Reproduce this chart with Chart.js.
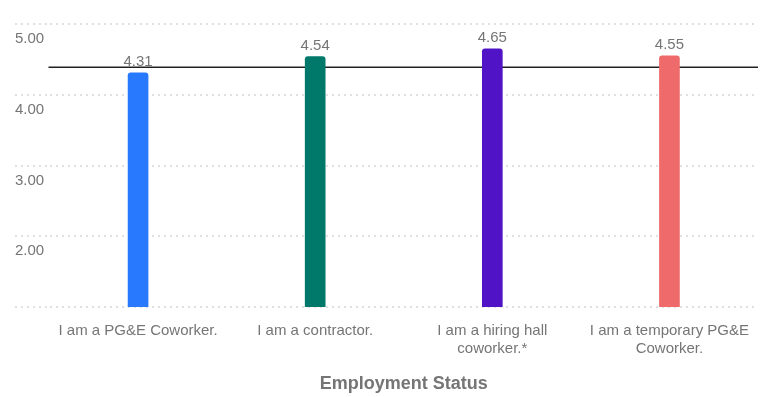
<!DOCTYPE html>
<html>
<head>
<meta charset="utf-8">
<script src="https://cdn.jsdelivr.net/npm/chart.js@4/dist/chart.umd.min.js"></script>
<style>
  html, body { margin: 0; padding: 0; background: #fff; }
  #wrap { width: 768px; height: 397px; }
</style>
</head>
<body>
<div id="wrap"><canvas id="grafico_status"></canvas></div>
<script>
const ctx = document.getElementById('grafico_status');

Chart.defaults.font.family = '"Liberation Sans", Arial, sans-serif';
Chart.defaults.color = '#757575';

const categories = [
  'I am a PG&E Coworker.',
  'I am a contractor.',
  ['I am a hiring hall', 'coworker.*'],
  ['I am a temporary PG&E', 'Coworker.']
];
const scores = [4.31, 4.54, 4.65, 4.55];
const overallAverage = 4.39;
const barColors = ['#2979ff', '#00796b', '#5014c6', '#ef6b6b'];
const yTicks = [1, 2, 3, 4, 5];

// horizontal reference line for the overall average, under the bars
const averageLine = {
  id: 'averageLine',
  beforeDatasetsDraw(chart) {
    const { ctx, chartArea, scales } = chart;
    const y = scales.y.getPixelForValue(overallAverage);
    ctx.save();
    ctx.strokeStyle = '#212121';
    ctx.lineWidth = 1.5;
    ctx.beginPath();
    ctx.moveTo(chartArea.left - 1, y);
    ctx.lineTo(chartArea.right, y);
    ctx.stroke();
    ctx.restore();
  }
};

// value written above each bar
const valueLabels = {
  id: 'valueLabels',
  afterDatasetsDraw(chart) {
    const { ctx } = chart;
    const meta = chart.getDatasetMeta(0);
    ctx.save();
    ctx.font = '15px "Liberation Sans", Arial, sans-serif';
    ctx.fillStyle = '#757575';
    ctx.textAlign = 'center';
    ctx.textBaseline = 'bottom';
    meta.data.forEach((bar, i) => {
      ctx.fillText(scores[i].toFixed(2), bar.x, bar.y - 3);
    });
    ctx.restore();
  }
};

new Chart(ctx, {
  type: 'bar',
  data: {
    labels: categories,
    datasets: [{
      data: scores,
      backgroundColor: barColors,
      barThickness: 20,
      borderRadius: { topLeft: 3, topRight: 3 },
      borderSkipped: 'bottom'
    }]
  },
  options: {
    responsive: true,
    maintainAspectRatio: false,
    animation: false,
    layout: { padding: { left: 15, right: 10, top: 24, bottom: 2 } },
    plugins: {
      legend: { display: false },
      tooltip: { enabled: false }
    },
    scales: {
      x: {
        afterFit(scale) {
          scale.height = 88;
        },
        grid: { display: false },
        border: { display: false },
        ticks: {
          font: { size: 15 },
          color: '#757575',
          padding: 7,
          maxRotation: 0,
          autoSkip: false
        },
        title: {
          display: true,
          text: 'Employment Status',
          font: { size: 18, weight: 'bold' },
          color: '#757575',
          padding: { top: 14, bottom: 0 }
        }
      },
      y: {
        min: 1,
        max: 5,
        afterBuildTicks(scale) {
          scale.ticks = yTicks.map(v => ({ value: v }));
        },
        afterFit(scale) {
          scale.width = 34.5;
        },
        border: { display: false, dash: [2, 4] },
        grid: {
          color: '#e0e0e0',
          lineWidth: 2,
          tickLength: 34.5,
          tickColor: '#e0e0e0',
          tickWidth: 2,
          tickBorderDash: [2, 4]
        },
        ticks: {
          font: { size: 15 },
          color: '#757575',
          crossAlign: 'far',
          labelOffset: 15,
          callback: v => (v === 1 ? '' : v.toFixed(2))
        }
      }
    }
  },
  plugins: [averageLine, valueLabels]
});
</script>
</body>
</html>
